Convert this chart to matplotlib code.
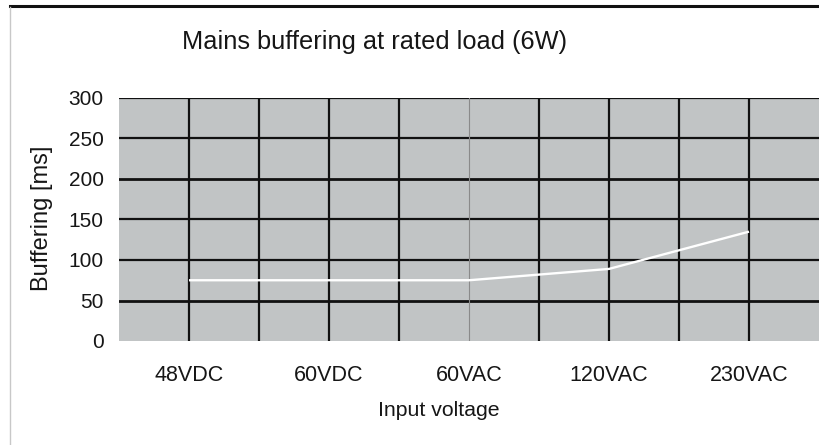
import matplotlib
matplotlib.use("Agg")
import matplotlib.pyplot as plt
from matplotlib.lines import Line2D

categories = ["48VDC", "60VDC", "60VAC", "120VAC", "230VAC"]
buffering_ms = [75, 75, 75, 89, 135]
y_ticks = [0, 50, 100, 150, 200, 250, 300]

plt.rcParams['font.family'] = ['Liberation Sans', 'DejaVu Sans']

W, H = 820, 445
fig = plt.figure(figsize=(W / 100, H / 100), dpi=100)
fig.patch.set_facecolor("white")

left, right, top, bottom = 119, 819, 98, 341
ax = fig.add_axes([left / W, 1 - bottom / H, (right - left) / W, (bottom - top) / H])
ax.set_facecolor("#C1C4C5")
for s in ax.spines.values():
    s.set_visible(False)

x = list(range(len(categories)))
ax.set_xlim(-0.5, len(categories) - 0.5)
ax.set_ylim(0, 300)

# grid lines
for yv in y_ticks[1:]:
    lw = 2.0 if yv in (50, 200) else 1.6
    ax.axhline(yv, color="#111111", lw=lw, zorder=1)
for i in range(2 * len(categories) - 1):
    xv = i * 0.5
    if xv == 2:
        ax.axvline(xv, color="#8a8a8a", lw=0.8, zorder=1)
    else:
        ax.axvline(xv, color="#111111", lw=1.6, zorder=1)

ax.plot(x, buffering_ms, color="white", lw=1.7, zorder=3, solid_capstyle="butt")

ax.set_xticks(x)
ax.set_xticklabels(categories, fontsize=15.5)
ax.set_yticks(y_ticks)
ax.set_yticklabels([str(v) for v in y_ticks], fontsize=15)
ax.tick_params(axis="both", length=0, colors="#161616")
ax.tick_params(axis="x", pad=17)
ax.tick_params(axis="y", pad=11)

fig.text(439 / W, 1 - 411 / H, "Input voltage", fontsize=15.3, ha="center", va="center",
         color="#161616")
fig.text(42 / W, 1 - 218 / H, "Buffering [ms]", fontsize=17, rotation=90,
         ha="center", va="center", color="#161616")

fig.text(375 / W, 1 - 42 / H, "Mains buffering at rated load (6W)", fontsize=18.3,
         ha="center", va="center", color="#161616")

# figure frame lines
fig.add_artist(Line2D([10 / W, 1], [1 - 5.5 / H, 1 - 5.5 / H], color="#111111", lw=2.2,
                      transform=fig.transFigure))
fig.add_artist(Line2D([10.5 / W, 10.5 / W], [0, 1 - 7 / H], color="#c8c8c8", lw=1.0,
                      transform=fig.transFigure))

fig.savefig("out.png", dpi=100)
